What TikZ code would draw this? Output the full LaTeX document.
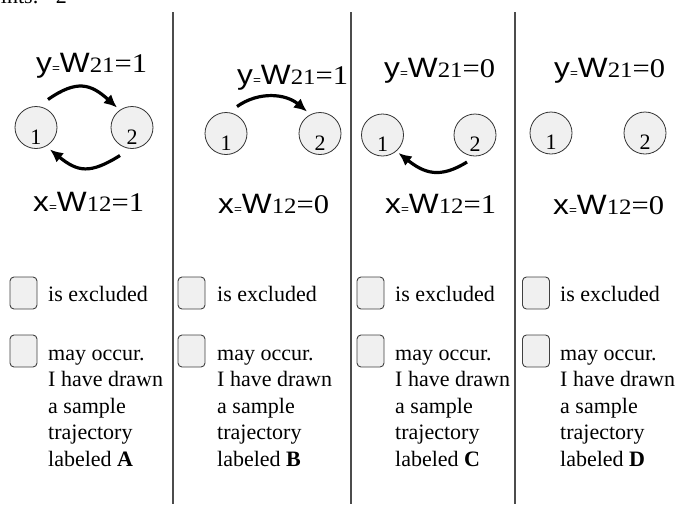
\documentclass[tikz,border=0pt]{standalone}
\usepackage{fontspec}
\setmainfont{Liberation Serif}
\setsansfont{Liberation Sans}
\usepackage{tikz}
\usetikzlibrary{arrows.meta}

\newcommand{\wlab}[3]{\scalebox{1.13}[1]{{\sffamily\fontsize{28}{28}\selectfont #1{\fontsize{12}{12}\selectfont=}W}{\fontsize{22}{22}\selectfont #2}{\fontsize{27}{27}\selectfont=#3}}}

\begin{document}
\begin{tikzpicture}[x=1pt,y=1pt,
 unit/.style={circle,draw=black!80,fill=black!6,line width=.8pt,minimum size=42pt,inner sep=0pt,text height=33pt,text depth=0pt,font=\fontsize{22}{22}\selectfont},
 wgt/.style={anchor=base west,inner sep=0pt},
 tick/.style={draw=black!75,fill=black!6,rounded corners=4pt,line width=.9pt,minimum width=27pt,minimum height=32pt,inner sep=0pt},
 txt/.style={anchor=base west,align=left,inner sep=0pt,font=\fontsize{22}{26.5}\selectfont},
 arr/.style={-{Latex[length=13pt,width=12pt]},line width=3.2pt},
 sep/.style={draw=black!70,line width=1.2pt}]
\useasboundingbox (0,0) rectangle (675,-504);
\node[anchor=base east,inner sep=0pt,font=\fontsize{22}{22}\selectfont] (pts) at (67,-3) {Points:\hspace{17pt}2};

\draw[sep] (173,-12)--(173,-504);
\draw[sep] (351,-12)--(351,-504);
\draw[sep] (515,-12)--(515,-504);

% column A
\node[wgt] (ya) at (36,-72) {\wlab{y}{21}{1}};
\node[unit] (a1) at (36,-127.5) {1};
\node[unit] (a2) at (132,-127.5) {2};
\node[wgt] (xa) at (33,-211) {\wlab{x}{12}{1}};
\draw[arr] ([shift={(12,28)}]a1.center) to[out=35,in=138,looseness=1.3] ([shift={(-15,20)}]a2.center);
\draw[arr] ([shift={(-12,-28)}]a2.center) to[out=212,in=-39,looseness=1.3] ([shift={(14,-22)}]a1.center);
\node[tick] (ea) at (23.5,-293) {};
\node[tick] (oa) at (23.5,-351) {};
\node[txt] (ta) at (48,-301.7) {is excluded};
\node[txt] (sa) at (48,-466) {may occur.\\I have drawn\\a sample\\trajectory\\labeled \textbf{A}};

% column B
\node[wgt] (yb) at (237,-84) {\wlab{y}{21}{1}};
\node[unit] (b1) at (226,-133.5) {1};
\node[unit] (b2) at (320,-133.5) {2};
\node[wgt] (xb) at (218,-213) {\wlab{x}{12}{0}};
\draw[arr] ([shift={(11,27)}]b1.center) to[out=35,in=140] ([shift={(-13,22)}]b2.center);
\node[tick] (eb) at (191.5,-293) {};
\node[tick] (ob) at (191.5,-351) {};
\node[txt] (tb) at (217,-301.7) {is excluded};
\node[txt] (sb) at (217,-466) {may occur.\\I have drawn\\a sample\\trajectory\\labeled \textbf{B}};

% column C
\node[wgt] (yc) at (384,-77) {\wlab{y}{21}{0}};
\node[unit] (c1) at (382.5,-135) {1};
\node[unit] (c2) at (475,-135) {2};
\node[wgt] (xc) at (385,-213) {\wlab{x}{12}{1}};
\draw[arr] ([shift={(-8,-27)}]c2.center) to[out=212,in=-38,looseness=1.2] ([shift={(16,-18)}]c1.center);
\node[tick] (ec) at (370.5,-293) {};
\node[tick] (oc) at (370.5,-351) {};
\node[txt] (tc) at (395,-301.7) {is excluded};
\node[txt] (sc) at (395,-466) {may occur.\\I have drawn\\a sample\\trajectory\\labeled \textbf{C}};

% column D
\node[wgt] (yd) at (554,-77) {\wlab{y}{21}{0}};
\node[unit] (d1) at (551,-133) {1};
\node[unit] (d2) at (645,-133) {2};
\node[wgt] (xd) at (553,-214) {\wlab{x}{12}{0}};
\node[tick] (ed) at (536,-293) {};
\node[tick] (od) at (536,-351) {};
\node[txt] (td) at (560,-301.7) {is excluded};
\node[txt] (sd) at (560,-466) {may occur.\\I have drawn\\a sample\\trajectory\\labeled \textbf{D}};
\end{tikzpicture}
\end{document}
